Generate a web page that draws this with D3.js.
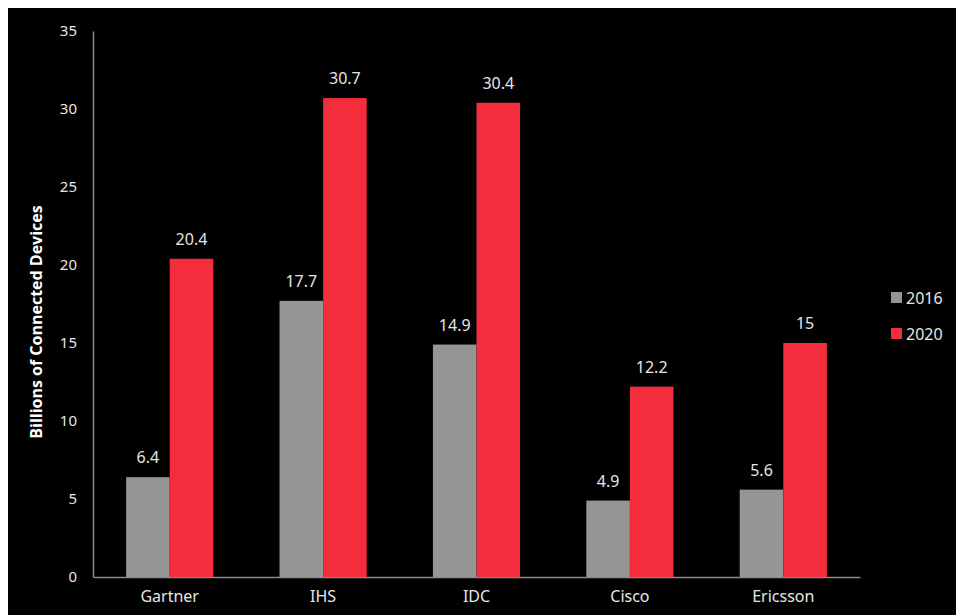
<!DOCTYPE html>
<html><head><meta charset="utf-8">
<script src="https://cdn.jsdelivr.net/npm/d3@7"></script>
<style>html,body{margin:0;padding:0;background:#fff;}svg{display:block;}</style>
</head><body>
<script>
const categories = ["Gartner", "IHS", "IDC", "Cisco", "Ericsson"];
const seriesNames = ["2016", "2020"];
const values2016 = [6.4, 17.7, 14.9, 4.9, 5.6];
const values2020 = [20.4, 30.7, 30.4, 12.2, 15];
const yTicks = [0, 5, 10, 15, 20, 25, 30, 35];
const colors = ["#959595", "#f42d3d"];

(function () {
const W = 956, H = 615;
const svg = d3.select("body").append("svg").attr("width", W).attr("height", H);
svg.append("rect").attr("x", 8).attr("y", 8).attr("width", W - 8).attr("height", H - 8).attr("fill", "#000");

const mLeft = 93, mRight = 860, mTop = 31, mBottom = 577;
const x = d3.scaleBand().domain(categories).range([mLeft, mRight]).paddingInner(0).paddingOuter(0);
const sub = d3.scaleBand().domain(seriesNames).range([0, x.bandwidth()]).paddingInner(0).paddingOuter(0.76);
const y = d3.scaleLinear().domain([0, 35]).range([mBottom, mTop]);

const textColor = "#e6e6e6";
const font = "'Noto Sans', 'Open Sans', sans-serif";

// y axis
const yAxis = svg.append("g").attr("transform", `translate(${mLeft},0)`)
  .call(d3.axisLeft(y).tickValues(yTicks).tickSize(0).tickPadding(16));
yAxis.select(".domain").attr("stroke", "#8a8a8a").attr("stroke-width", 1.5);
yAxis.selectAll("text").attr("fill", textColor).style("font-family", font).style("font-size", "15px");

// x axis
const xAxis = svg.append("g").attr("transform", `translate(0,${mBottom})`)
  .call(d3.axisBottom(x).tickSize(0).tickPadding(14));
xAxis.select(".domain").attr("stroke", "#8a8a8a").attr("stroke-width", 1.5);
xAxis.selectAll("text").attr("fill", textColor).style("font-family", font).style("font-size", "16px");

const data = categories.map((c, i) => ({cat: c, vals: [values2016[i], values2020[i]]}));

const groups = svg.append("g").selectAll("g").data(data).join("g")
  .attr("transform", d => `translate(${x(d.cat)},0)`);

groups.selectAll("rect").data(d => d.vals.map((v, j) => ({s: seriesNames[j], v, j})))
  .join("rect")
  .attr("x", d => sub(d.s)).attr("width", sub.bandwidth())
  .attr("y", d => y(d.v)).attr("height", d => y(0) - y(d.v))
  .attr("fill", d => colors[d.j]);

groups.selectAll("text.val").data(d => d.vals.map((v, j) => ({s: seriesNames[j], v, j})))
  .join("text").attr("class", "val")
  .attr("x", d => sub(d.s) + sub.bandwidth() / 2)
  .attr("y", d => y(d.v) - 14)
  .attr("text-anchor", "middle")
  .attr("fill", textColor).style("font-family", font).style("font-size", "16px")
  .text(d => d.v);

// axis title
svg.append("text")
  .attr("transform", `translate(42,${(mTop + mBottom) / 2 + 18}) rotate(-90)`)
  .attr("text-anchor", "middle")
  .attr("fill", "#fff").style("font-family", "'Open Sans', sans-serif").style("font-weight", "bold").style("font-size", "16px")
  .text("Billions of Connected Devices");

// legend
const legend = svg.append("g").selectAll("g").data(seriesNames).join("g")
  .attr("transform", (d, i) => `translate(891,${292 + i * 36})`);
legend.append("rect").attr("width", 11).attr("height", 11).attr("fill", (d, i) => colors[i]);
legend.append("text").attr("x", 15).attr("y", 11.5)
  .attr("fill", textColor).style("font-family", font).style("font-size", "16px").text(d => d);
})();
</script>
</body></html>
